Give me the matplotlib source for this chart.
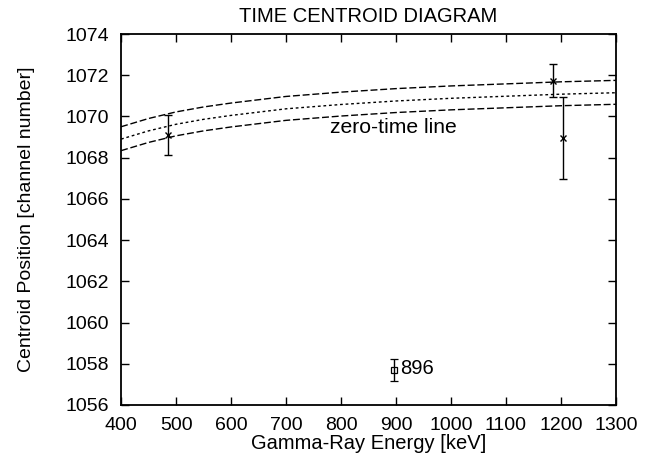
import matplotlib
matplotlib.use("Agg")
import matplotlib.pyplot as plt

plt.rcParams['font.family'] = ['Liberation Sans', 'DejaVu Sans']

# zero-time curves
curve_x = [400, 450, 500, 550, 600, 700, 800, 900, 1000, 1100, 1200, 1300]
curve_mid = [1068.90, 1069.30, 1069.62, 1069.86, 1070.05, 1070.37, 1070.58, 1070.75, 1070.88, 1070.98, 1071.08, 1071.15]
curve_up = [1069.50, 1069.90, 1070.22, 1070.46, 1070.65, 1070.97, 1071.18, 1071.35, 1071.48, 1071.58, 1071.68, 1071.75]
curve_lo = [1068.34, 1068.74, 1069.06, 1069.30, 1069.49, 1069.81, 1070.02, 1070.19, 1070.32, 1070.42, 1070.52, 1070.59]

# data points (x markers)
pts_x = [485, 1186, 1204]
pts_y = [1069.1, 1071.73, 1068.95]
pts_err = [0.95, 0.8, 2.0]

# outlier (square)
sq_x = [896]
sq_y = [1057.7]
sq_err = [0.55]
sq_label = "896"

xticks = [400, 500, 600, 700, 800, 900, 1000, 1100, 1200, 1300]
yticks = [1056, 1058, 1060, 1062, 1064, 1066, 1068, 1070, 1072, 1074]

fig = plt.figure(figsize=(6.58, 4.57), dpi=100)
ax = fig.add_axes([0.184, 0.1138, 0.752, 0.8118])

ax.plot(curve_x, curve_up, color='black', lw=1.0, dashes=(5, 2))
ax.plot(curve_x, curve_mid, color='black', lw=1.0, dashes=(2, 2))
ax.plot(curve_x, curve_lo, color='black', lw=1.0, dashes=(5, 2))

ax.errorbar(pts_x, pts_y, yerr=pts_err, fmt='x', color='black', ms=5, mew=1.0,
            elinewidth=1.0, capsize=3, capthick=1.0)
ax.errorbar(sq_x, sq_y, yerr=sq_err, fmt='s', color='black', mfc='none', ms=4, mew=0.9,
            elinewidth=1.0, capsize=3, capthick=1.0)

ax.text(sq_x[0] + 12, sq_y[0] + 0.05, sq_label, fontsize=14.5, va='center', ha='left')
ax.text(780, 1069.45, "zero-time line", fontsize=15.2, va='center', ha='left')

ax.set_xlim(400, 1300)
ax.set_ylim(1056, 1074)
ax.set_xticks(xticks)
ax.set_yticks(yticks)
ax.tick_params(direction='in', top=True, right=True, length=5.5, width=1, labelsize=14)
ax.tick_params(axis='x', pad=9)
ax.tick_params(axis='y', pad=8.6)
for s in ax.spines.values():
    s.set_linewidth(1.3)

ax.set_title("TIME CENTROID DIAGRAM", fontsize=14.5, pad=9)
ax.set_xlabel("Gamma-Ray Energy [keV]", fontsize=14.5, labelpad=0)
ax.set_ylabel("Centroid Position [channel number]", fontsize=14, labelpad=22)

fig.savefig("out.png", dpi=100)
